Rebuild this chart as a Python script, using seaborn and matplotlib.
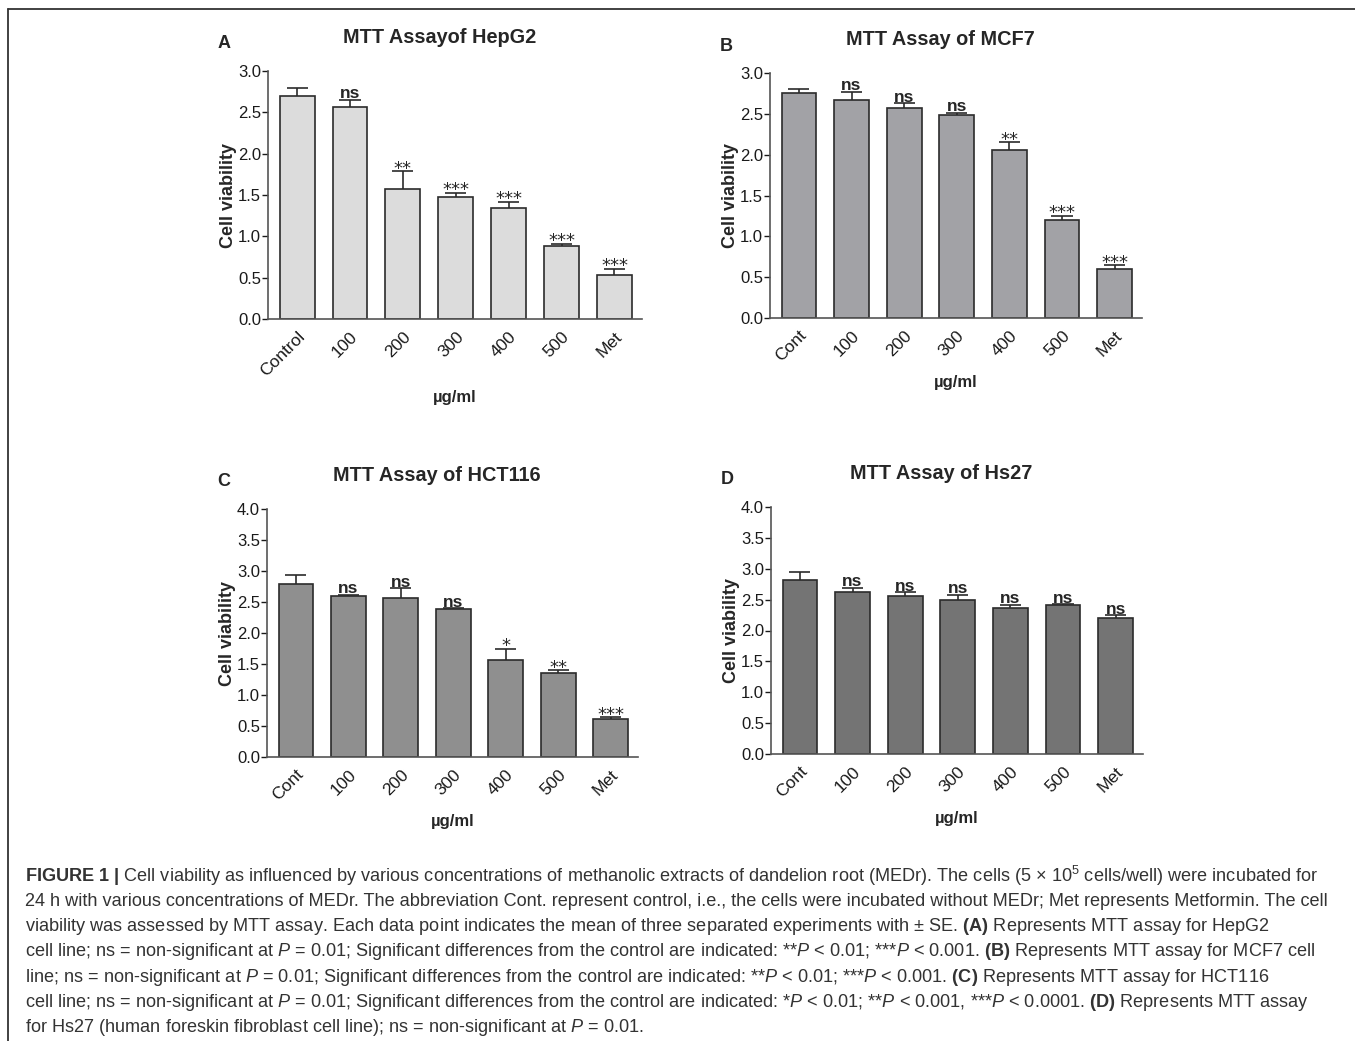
import matplotlib
matplotlib.use("Agg")
import matplotlib.pyplot as plt
from matplotlib.lines import Line2D
import numpy as np
import pandas as pd
import seaborn as sns

# MTT assay means (cell viability) and upper SE per group
hepg2_groups = ["Control", "100", "200", "300", "400", "500", "Met"]
hepg2_mean = [2.70, 2.57, 1.57, 1.48, 1.34, 0.88, 0.53]
hepg2_se = [0.10, 0.08, 0.22, 0.05, 0.08, 0.03, 0.08]
hepg2_sig = ["", "ns", "**", "***", "***", "***", "***"]

mcf7_groups = ["Cont", "100", "200", "300", "400", "500", "Met"]
mcf7_mean = [2.76, 2.67, 2.57, 2.48, 2.06, 1.20, 0.60]
mcf7_se = [0.04, 0.10, 0.06, 0.03, 0.09, 0.05, 0.045]
mcf7_sig = ["", "ns", "ns", "ns", "**", "***", "***"]

hct116_groups = ["Cont", "100", "200", "300", "400", "500", "Met"]
hct116_mean = [2.79, 2.59, 2.57, 2.38, 1.57, 1.35, 0.62]
hct116_se = [0.14, 0.03, 0.15, 0.02, 0.18, 0.05, 0.025]
hct116_sig = ["", "ns", "ns", "ns", "*", "**", "***"]

hs27_groups = ["Cont", "100", "200", "300", "400", "500", "Met"]
hs27_mean = [2.81, 2.63, 2.56, 2.50, 2.36, 2.41, 2.21]
hs27_se = [0.14, 0.06, 0.06, 0.08, 0.06, 0.015, 0.035]
hs27_sig = ["", "ns", "ns", "ns", "ns", "ns", "ns"]

caption_lines = [
    r"$\mathbf{FIGURE\ 1\ |}$ Cell viability as influenced by various concentrations of methanolic extracts of dandelion root (MEDr). The cells (5 × 10$^{5}$ cells/well) were incubated for",
    "24 h with various concentrations of MEDr. The abbreviation Cont. represent control, i.e., the cells were incubated without MEDr; Met represents Metformin. The cell",
    r"viability was assessed by MTT assay. Each data point indicates the mean of three separated experiments with ± SE. $\mathbf{(A)}$ Represents MTT assay for HepG2",
    r"cell line; ns = non-significant at $\mathit{P}$ = 0.01; Significant differences from the control are indicated: **$\mathit{P}$ < 0.01; ***$\mathit{P}$ < 0.001. $\mathbf{(B)}$ Represents MTT assay for MCF7 cell",
    r"line; ns = non-significant at $\mathit{P}$ = 0.01; Significant differences from the control are indicated: **$\mathit{P}$ < 0.01; ***$\mathit{P}$ < 0.001. $\mathbf{(C)}$ Represents MTT assay for HCT116",
    r"cell line; ns = non-significant at $\mathit{P}$ = 0.01; Significant differences from the control are indicated: *$\mathit{P}$ < 0.01; **$\mathit{P}$ < 0.001, ***$\mathit{P}$ < 0.0001. $\mathbf{(D)}$ Represents MTT assay",
    r"for Hs27 (human foreskin fibroblast cell line); ns = non-significant at $\mathit{P}$ = 0.01.",
]

sns.set_theme(style="ticks")
plt.rcParams["font.family"] = ["Liberation Sans", "DejaVu Sans"]
plt.rcParams["mathtext.fontset"] = "custom"
plt.rcParams["mathtext.rm"] = "Liberation Sans"
plt.rcParams["mathtext.it"] = "Liberation Sans:italic"
plt.rcParams["mathtext.bf"] = "Liberation Sans:bold"
plt.rcParams["mathtext.default"] = "regular"

INK = "#2b2b2b"
W, H = 1355, 1041


def draw_panel(ax, groups, mean, se, sig, color, ymax, title, letter):
    df = pd.DataFrame({"group": groups, "viability": mean})
    sns.barplot(data=df, x="group", y="viability", color=color, saturation=1,
                edgecolor=INK, linewidth=1.2, width=0.66, errorbar=None, ax=ax)
    xs = np.arange(len(groups))
    tops = np.array(mean) + np.array(se)
    ax.vlines(xs, mean, tops, color=INK, lw=1.2, zorder=1)
    ax.hlines(tops, xs - 0.2, xs + 0.2, color=INK, lw=1.2)
    for x, t, s in zip(xs, tops, sig):
        if not s:
            continue
        if s == "ns":
            ax.annotate(s, (x, t), xytext=(0, 1.2), textcoords="offset points",
                        ha="center", va="baseline", fontsize=12.5, fontweight="bold")
        else:
            ax.annotate(s, (x, t), xytext=(0, -1.8), textcoords="offset points",
                        ha="center", va="baseline", fontsize=13, family="DejaVu Sans")

    ax.set_xlim(-0.55, 6.52)
    ax.set_ylim(0, ymax)
    ax.set_yticks(np.arange(0, ymax + 0.01, 0.5))
    ax.set_yticklabels([f"{v:.1f}" for v in np.arange(0, ymax + 0.01, 0.5)])
    ax.set_xticks(xs)
    ax.set_xticklabels(groups, rotation=45, ha="right", rotation_mode="anchor")
    ax.tick_params(axis="x", length=0, pad=7, labelsize=12.5, colors="#1a1a1a")
    ax.tick_params(axis="y", length=4, width=1, pad=1, labelsize=12, colors="#1a1a1a")
    sns.despine(ax=ax)
    for sp in ("left", "bottom"):
        ax.spines[sp].set_color("#555555")
        ax.spines[sp].set_linewidth(1.2)
    ax.set_ylabel("Cell viability", fontsize=13, fontweight="bold", labelpad=1)
    ax.set_xlabel("µg/ml", fontsize=12, fontweight="bold", labelpad=8)
    ax.text(0.458, 1.135, title, transform=ax.transAxes, ha="center", va="center",
            fontsize=14.3, fontweight="bold")
    ax.text(-0.117, 1.11, letter, transform=ax.transAxes, ha="center", va="center",
            fontsize=13, fontweight="bold")


fig = plt.figure(figsize=(13.55, 10.41), dpi=100)

ax_a = fig.add_axes([268 / W, 1 - 319 / H, 374 / W, 248 / H])
ax_b = fig.add_axes([770 / W, 1 - 318 / H, 372 / W, 245 / H])
ax_c = fig.add_axes([267 / W, 1 - 757 / H, 371 / W, 248 / H])
ax_d = fig.add_axes([771 / W, 1 - 754 / H, 372 / W, 247 / H])

draw_panel(ax_a, hepg2_groups, hepg2_mean, hepg2_se, hepg2_sig, "#dcdcdc", 3.0,
           "MTT Assayof HepG2", "A")
draw_panel(ax_b, mcf7_groups, mcf7_mean, mcf7_se, mcf7_sig, "#a2a2a6", 3.0,
           "MTT Assay of MCF7", "B")
draw_panel(ax_c, hct116_groups, hct116_mean, hct116_se, hct116_sig, "#8f8f8f", 4.0,
           "MTT Assay of HCT116", "C")
draw_panel(ax_d, hs27_groups, hs27_mean, hs27_se, hs27_sig, "#747474", 4.0,
           "MTT Assay of Hs27", "D")

# frame lines (top and left)
fig.add_artist(Line2D([8 / W, 1], [1 - 9 / H, 1 - 9 / H], transform=fig.transFigure,
                      color="#333333", lw=1.3))
fig.add_artist(Line2D([8 / W, 8 / W], [0, 1 - 9 / H], transform=fig.transFigure,
                      color="#333333", lw=1.3))

for i, line in enumerate(caption_lines):
    y = 876 + i * 25.3
    fig.text(25 / W, 1 - y / H, line, ha="left", va="center", fontsize=13.05,
             color="#333333")

fig.savefig("out.png", dpi=100)
